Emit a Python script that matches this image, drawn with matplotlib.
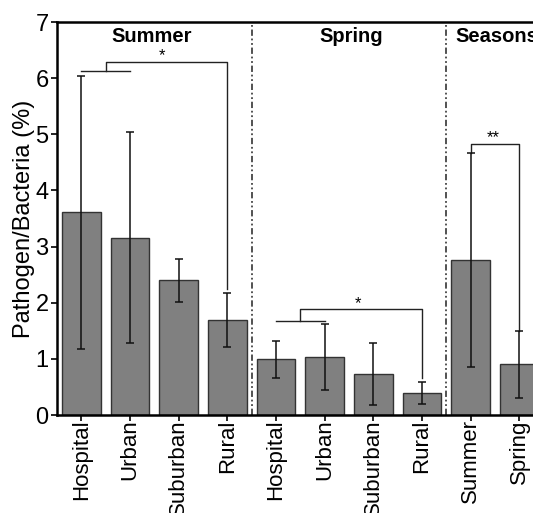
import numpy as np
import matplotlib.pyplot as plt

plt.rcParams['font.family'] = ['Liberation Sans', 'DejaVu Sans']

# Data
labels = ['Hospital', 'Urban', 'Suburban', 'Rural',
          'Hospital', 'Urban', 'Suburban', 'Rural',
          'Summer', 'Spring']
means = [3.61, 3.16, 2.40, 1.70, 0.99, 1.04, 0.73, 0.39, 2.76, 0.90]
errors = [2.43, 1.88, 0.38, 0.48, 0.33, 0.59, 0.56, 0.19, 1.91, 0.59]
groups = ['Summer', 'Spring', 'Seasons']

x = np.arange(len(labels))

fig = plt.figure(figsize=(5.33, 5.13), dpi=100)
ax = fig.add_axes([0.107, 0.191, 0.913, 0.766])

ax.bar(x, means, width=0.8, color='#808080', edgecolor='#333333', linewidth=1.0, zorder=2)
ax.errorbar(x, means, yerr=errors, fmt='none', ecolor='#111111', elinewidth=1.1,
            capsize=3, capthick=1.1, zorder=3)

# group dividers
for xd in [3.5, 7.5]:
    ax.axvline(xd, color='#444444', linewidth=1.3,
               linestyle=(0, (3.5, 1.5, 1, 1.5, 1, 1.5)), zorder=1)

# group titles
ax.text(1.45, 6.74, groups[0], ha='center', va='center', fontsize=14.5, fontweight='bold')
ax.text(5.55, 6.74, groups[1], ha='center', va='center', fontsize=14.5, fontweight='bold')
ax.text(7.68, 6.74, groups[2], ha='left', va='center', fontsize=14.5, fontweight='bold')

# significance brackets
lc = '#222222'
blw = 1.0
# Summer: Hospital+Urban vs Rural
ax.plot([0, 1], [6.12, 6.12], color=lc, lw=blw)
ax.plot([0.5, 0.5, 3, 3], [6.12, 6.29, 6.29, 2.24], color=lc, lw=blw)
ax.text(1.66, 6.26, '*', ha='center', va='bottom', fontsize=12)
# Spring: Hospital+Urban vs Rural
ax.plot([4, 5], [1.68, 1.68], color=lc, lw=blw)
ax.plot([4.5, 4.5, 7, 7], [1.68, 1.88, 1.88, 0.66], color=lc, lw=blw)
ax.text(5.69, 1.85, '*', ha='center', va='bottom', fontsize=12)
# Seasons: Summer vs Spring
ax.plot([8, 8, 9, 9], [4.67, 4.83, 4.83, 1.49], color=lc, lw=blw)
ax.text(8.46, 4.80, '**', ha='center', va='bottom', fontsize=12)

ax.set_xlim(-0.5, 9.5)
ax.set_ylim(0, 7)
ax.set_yticks(range(0, 8))
ax.set_xticks(x)
ax.set_xticklabels(labels, rotation=90, fontsize=16)
ax.tick_params(axis='y', labelsize=17, direction='out', length=4, width=1.2, pad=2)
ax.tick_params(axis='x', direction='out', length=4, width=1.2, pad=-1)
ax.set_ylabel('Pathogen/Bacteria (%)', fontsize=17, labelpad=0)

for side in ['left', 'top', 'bottom']:
    ax.spines[side].set_linewidth(1.8)
ax.spines['right'].set_visible(False)

fig.savefig('out.png', dpi=100)
